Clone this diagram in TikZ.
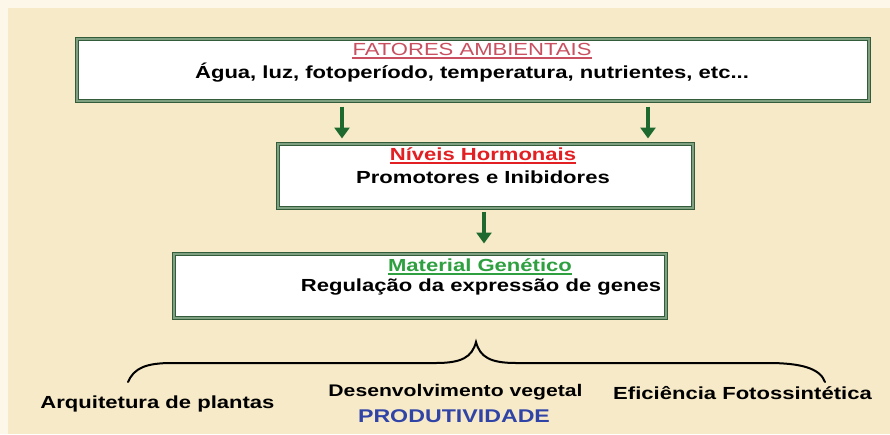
\documentclass[tikz,border=0pt]{standalone}
\usepackage{fontspec}
\setmainfont{Liberation Sans}[FakeStretch=1.26]
\usetikzlibrary{arrows.meta}
\definecolor{bgc}{RGB}{247,234,200}
\definecolor{bgedge}{RGB}{252,247,232}
\definecolor{framedark}{RGB}{50,92,58}
\definecolor{framelight}{RGB}{128,160,130}
\definecolor{arrowgreen}{RGB}{30,106,46}
\definecolor{rosered}{RGB}{200,80,96}
\definecolor{hotred}{RGB}{226,32,36}
\definecolor{leafgreen}{RGB}{46,160,64}
\definecolor{prodblue}{RGB}{48,68,168}
\tikzset{
  framebox/.style={draw=framedark, line width=1pt, double=framelight, double distance=2pt, fill=white},
  txt/.style={inner sep=0pt, anchor=base, font=\fontsize{17.5}{20}\selectfont\bfseries},
  ttl/.style={inner sep=0pt, anchor=base, font=\fontsize{17.5}{20}\selectfont\bfseries},
  downarrow/.style={draw=arrowgreen, line width=4pt, -{Triangle[width=15pt,length=11pt]}},
  bracepath/.style={draw=black, line width=2pt, line cap=round}
}
\begin{document}
\begin{tikzpicture}[x=1pt,y=1pt]
\useasboundingbox (0,0) rectangle (890,-434);
\fill[bgedge] (0,0) rectangle (890,-434);
\fill[bgc] (8,-8) rectangle (890,-434);

% boxes
\node[framebox, minimum width=792pt, minimum height=62pt, inner sep=0pt] (box1) at (473,-70) {};
\node[framebox, minimum width=415pt, minimum height=64pt, inner sep=0pt] (box2) at (485.5,-176) {};
\node[framebox, minimum width=492pt, minimum height=64pt, inner sep=0pt] (box3) at (420,-286) {};

% box texts
\node[ttl, text=rosered, font=\fontsize{17.5}{20}\selectfont] (t1) at (472,-55.3) {FATORES AMBIENTAIS};
\draw[rosered, line width=1.4pt] ([yshift=-2.8pt]t1.base west) -- ([yshift=-2.8pt]t1.base east);
\node[txt] (b1) at (472,-78.3) {Água, luz, fotoperíodo, temperatura, nutrientes, etc...};

\node[ttl, text=hotred] (t2) at (483,-160.3) {Níveis Hormonais};
\draw[hotred, line width=1.4pt] ([yshift=-2.8pt]t2.base west) -- ([yshift=-2.8pt]t2.base east);
\node[txt] (b2) at (483,-183.3) {Promotores e Inibidores};

\node[ttl, text=leafgreen] (t3) at (480,-271.3) {Material Genético};
\draw[leafgreen, line width=1.4pt] ([yshift=-2.8pt]t3.base west) -- ([yshift=-2.8pt]t3.base east);
\node[txt] (b3) at (481,-291.5) {Regulação da expressão de genes};

% arrows
\coordinate (a1) at (342,0);
\coordinate (a2) at (648,0);
\coordinate (a3) at (484,0);
\draw[downarrow, shorten <=5pt, shorten >=5pt] (box1.south -| a1) -- (box2.north -| a1);
\draw[downarrow, shorten <=5pt, shorten >=5pt] (box1.south -| a2) -- (box2.north -| a2);
\draw[downarrow, shorten <=3pt, shorten >=10pt] (box2.south -| a3) -- (box3.north -| a3);

% brace
\coordinate (brL) at (128,-382);
\coordinate (brP) at (476,-342);
\coordinate (brR) at (825,-382);
\draw[bracepath] (brL) .. controls (134,-368) and (146,-363) .. (172,-363)
  -- (436,-363) .. controls (462,-363) and (472,-357) .. (brP)
  .. controls (480,-357) and (490,-363) .. (516,-363)
  -- (768,-363) .. controls (800,-363) and (820,-368) .. (brR);

% bottom labels
\node[txt] (l1) at (157.5,-408.3) {Arquitetura de plantas};
\node[txt, font=\fontsize{16.8}{20}\selectfont\bfseries] (l2) at (455.5,-396.3) {Desenvolvimento vegetal};
\node[txt] (l3) at (742.5,-399.3) {Eficiência Fotossintética};
\node[txt, text=prodblue, font=\fontsize{18.4}{20}\selectfont\bfseries] (l4) at (454,-422.5) {PRODUTIVIDADE};
\end{tikzpicture}
\end{document}
